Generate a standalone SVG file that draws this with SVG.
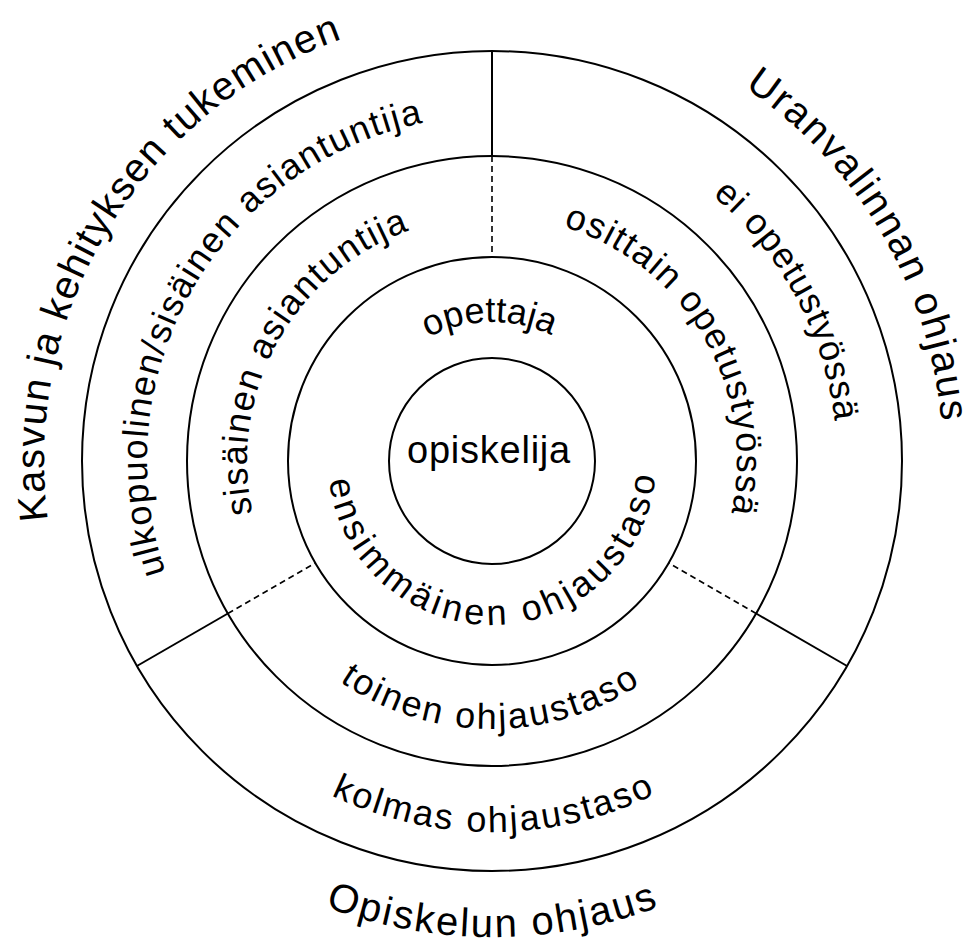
<svg xmlns="http://www.w3.org/2000/svg" xmlns:xlink="http://www.w3.org/1999/xlink" width="975" height="943" viewBox="0 0 975 943">
<style>
.ring{fill:none;stroke:#000;stroke-width:2}
.div{stroke:#000;stroke-width:2;fill:none}
.dash{stroke:#000;stroke-width:1.6;fill:none;stroke-dasharray:6 4}
.t{font-family:"Liberation Sans",Arial,Helvetica,sans-serif;fill:#000}
.s36{font-size:36px}
.s40{font-size:40px}
</style>
<defs>
<path id="pOpettaja" d="M355.55,487.52 A139,139 0 1 1 629.29,482.74"/>
<path id="pEnsim" d="M329.84,436.48 A164,164 0 1 0 652.76,428.58"/>
<path id="pSisainen" d="M411.83,692.51 A245,245 0 1 1 646.57,270.92"/>
<path id="pOsittain" d="M333.73,273.98 A245,245 0 1 1 576.80,690.86"/>
<path id="pToinen" d="M228.32,413.08 A268,268 0 1 0 756.17,415.84"/>
<path id="pUlko" d="M374.57,785.40 A345,345 0 1 1 713.30,196.33"/>
<path id="pEi" d="M277.81,190.54 A345,345 0 1 1 600.90,788.36"/>
<path id="pKolmas" d="M126.25,398.81 A371,371 0 1 0 856.96,394.35"/>
<path id="pKasvun" d="M327.81,877.83 A448,448 0 1 1 788.85,125.47"/>
<path id="pUran" d="M199.70,117.55 A451,451 0 1 1 649.20,883.71"/>
<path id="pOpisk" d="M23.09,379.16 A476,476 0 1 0 960.62,377.52"/>
</defs>
<rect width="975" height="943" fill="#fff"/>

<g id="connectors">
<line class="div" x1="492" y1="51" x2="492" y2="156"/>
<line class="dash" x1="492" y1="156" x2="492" y2="257"/>
<line class="div" x1="136.93" y1="666" x2="227.86" y2="613.5"/>
<line class="dash" x1="227.86" y1="613.5" x2="315.33" y2="563"/>
<line class="div" x1="847.07" y1="666" x2="756.14" y2="613.5"/>
<line class="dash" x1="756.14" y1="613.5" x2="668.67" y2="563"/>
</g>

<g id="opiskelija">
<circle class="ring" cx="492" cy="461" r="103"/>
<text class="t" x="489" y="463" font-size="38" letter-spacing="0.75" text-anchor="middle">opiskelija</text>
</g>

<g id="ensimmainen-taso">
<circle class="ring" cx="492" cy="461" r="204"/>
<text class="t s36" letter-spacing="0"><textPath xlink:href="#pOpettaja" href="#pOpettaja" startOffset="50%" text-anchor="middle">opettaja</textPath></text>
<text class="t s36" letter-spacing="3.9"><textPath xlink:href="#pEnsim" href="#pEnsim" startOffset="50%" text-anchor="middle">ensimmäinen ohjaustaso</textPath></text>
</g>

<g id="toinen-taso">
<circle class="ring" cx="492" cy="461" r="305"/>
<text class="t s36" letter-spacing="1.45"><textPath xlink:href="#pSisainen" href="#pSisainen" startOffset="50%" text-anchor="middle">sisäinen asiantuntija</textPath></text>
<text class="t s36" letter-spacing="1.43"><textPath xlink:href="#pOsittain" href="#pOsittain" startOffset="50%" text-anchor="middle">osittain opetustyössä</textPath></text>
<text class="t s36" letter-spacing="2.3"><textPath xlink:href="#pToinen" href="#pToinen" startOffset="50%" text-anchor="middle">toinen ohjaustaso</textPath></text>
</g>

<g id="kolmas-taso">
<circle class="ring" cx="492" cy="461" r="410"/>
<text class="t s36" letter-spacing="1.5"><textPath xlink:href="#pUlko" href="#pUlko" startOffset="50%" text-anchor="middle">ulkopuolinen/sisäinen asiantuntija</textPath></text>
<text class="t s36" letter-spacing="0.93"><textPath xlink:href="#pEi" href="#pEi" startOffset="50%" text-anchor="middle">ei opetustyössä</textPath></text>
<text class="t s36" letter-spacing="2.3"><textPath xlink:href="#pKolmas" href="#pKolmas" startOffset="50%" text-anchor="middle">kolmas ohjaustaso</textPath></text>
</g>

<g id="alueet">
<text class="t s40" letter-spacing="1.33"><textPath xlink:href="#pKasvun" href="#pKasvun" startOffset="50%" text-anchor="middle">Kasvun ja kehityksen tukeminen</textPath></text>
<text class="t s40" letter-spacing="2"><textPath xlink:href="#pUran" href="#pUran" startOffset="50%" text-anchor="middle">Uranvalinnan ohjaus</textPath></text>
<text class="t s40" letter-spacing="2.25"><textPath xlink:href="#pOpisk" href="#pOpisk" startOffset="50%" text-anchor="middle">Opiskelun ohjaus</textPath></text>
</g>
</svg>
